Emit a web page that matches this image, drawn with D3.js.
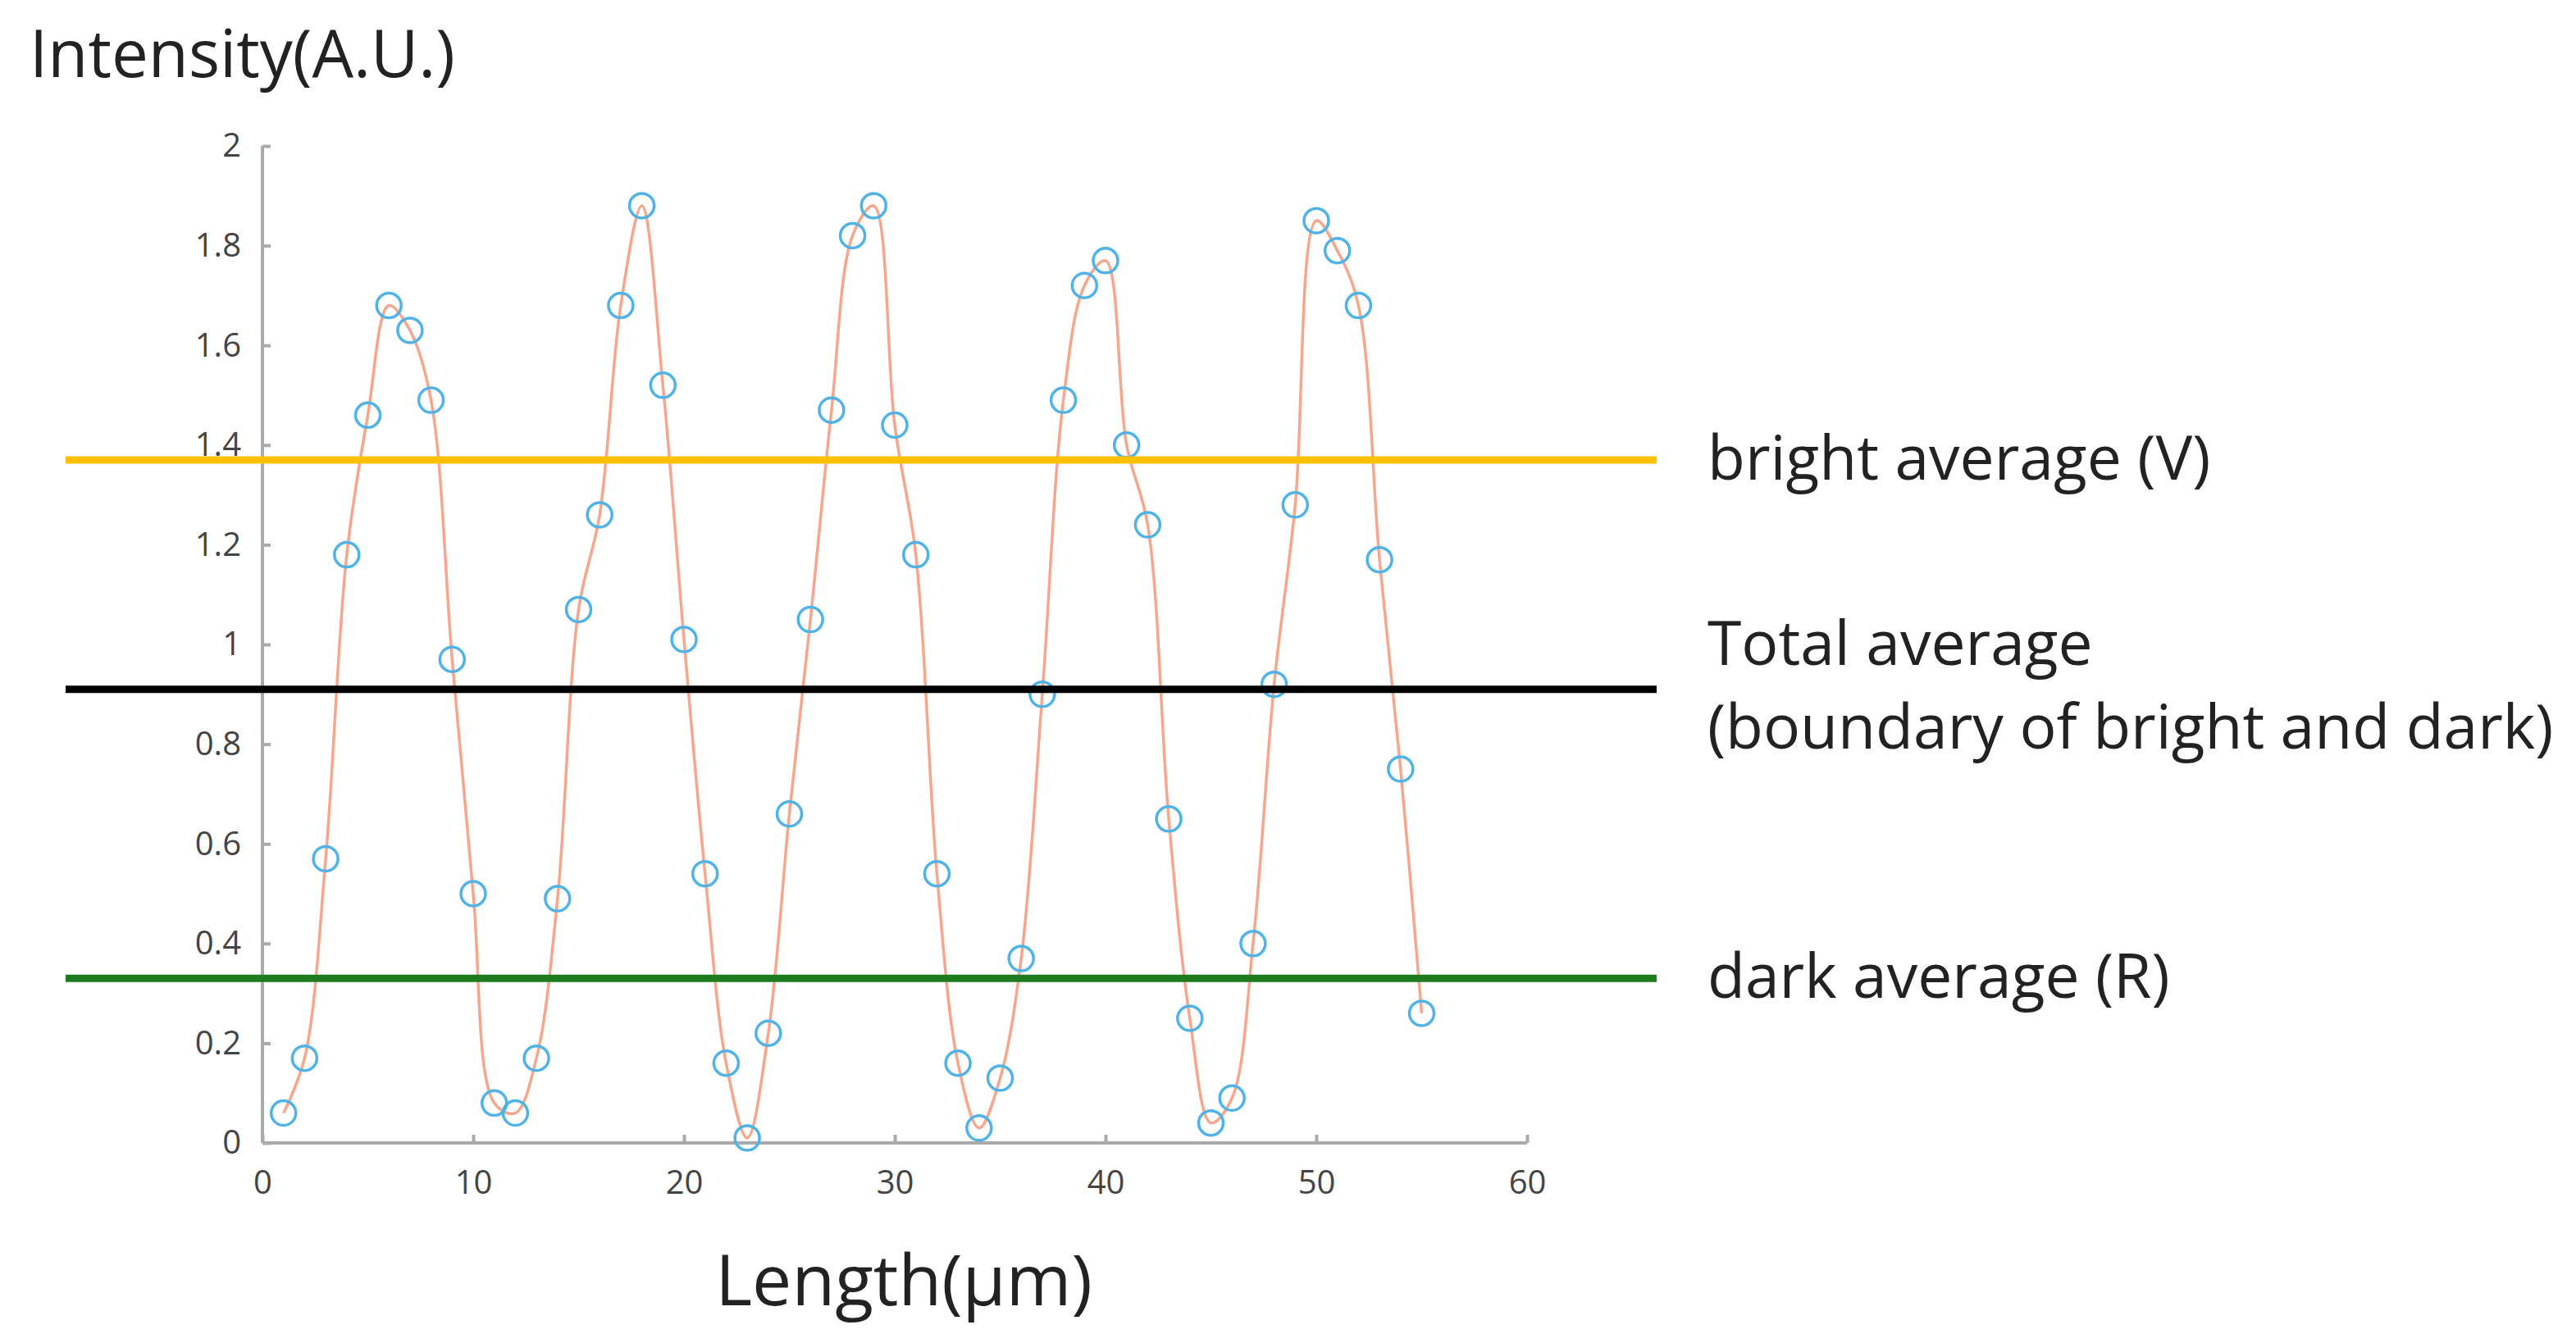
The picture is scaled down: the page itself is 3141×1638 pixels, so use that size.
<!DOCTYPE html><html><head><meta charset="utf-8"><script src="https://cdn.jsdelivr.net/npm/d3@7"></script>
<style>body{margin:0;background:#fff}text{font-family:"Open Sans",Calibri,sans-serif}</style></head><body>
<svg id="c" width="3141" height="1638"></svg>
<script>
const xs=d3.range(1,56);
const intensity=[0.06,0.17,0.57,1.18,1.46,1.68,1.63,1.49,0.97,0.50,0.08,0.06,0.17,0.49,1.07,1.26,1.68,1.88,1.52,1.01,0.54,0.16,0.01,0.22,0.66,1.05,1.47,1.82,1.88,1.44,1.18,0.54,0.16,0.03,0.13,0.37,0.90,1.49,1.72,1.77,1.40,1.24,0.65,0.25,0.04,0.09,0.40,0.92,1.28,1.85,1.79,1.68,1.17,0.75,0.26];
const refNames=["bright average (V)","Total average","dark average (R)"];
const refValues=[1.37,0.91,0.33];
const refColors=["#ffc000","#000000","#1e7b1e"];
const xTicks=[0,10,20,30,40,50,60];
const yTicks=[0,0.2,0.4,0.6,0.8,1,1.2,1.4,1.6,1.8,2];
const svg=d3.select("#c");
const x=d3.scaleLinear().domain([0,60]).range([320,1862]);
const y=d3.scaleLinear().domain([0,2]).range([1394,178]);
const ax=svg.append("g").attr("transform","translate(0,1394)").call(d3.axisBottom(x).tickValues(xTicks).tickSize(-10).tickPadding(34).tickFormat(d3.format("d")));
const ay=svg.append("g").attr("transform","translate(320,0)").call(d3.axisLeft(y).tickValues(yTicks).tickSize(-10).tickPadding(26).tickFormat(d=>d));
[ax,ay].forEach(a=>{a.selectAll("path,line").attr("stroke","#aaa").attr("stroke-width",4);a.selectAll("text").attr("fill","#444").attr("font-size",40);});
ax.select(".domain").attr("d","M320,0H1862");
ay.select(".domain").attr("d","M0,178V1394");
svg.append("path").datum(xs.map((d,i)=>[d,intensity[i]])).attr("fill","none").attr("stroke","#f7a68c").attr("stroke-width",3.5)
 .attr("d",d3.line().x(d=>x(d[0])).y(d=>y(d[1])).curve(d3.curveCatmullRom.alpha(0.5)));
svg.selectAll("circle").data(xs).join("circle").attr("cx",d=>x(d)).attr("cy",(d,i)=>y(intensity[i])).attr("r",15).attr("fill","none").attr("stroke","#4fb3e8").attr("stroke-width",3.5);
refValues.forEach((v,i)=>{svg.append("line").attr("x1",80).attr("x2",2020).attr("y1",y(v)).attr("y2",y(v)).attr("stroke",refColors[i]).attr("stroke-width",9);});
const lab=(t,xx,yy)=>svg.append("text").attr("x",xx).attr("y",yy).attr("font-size",75).attr("fill","#222").text(t);
lab(refNames[0],2082,y(1.37)+24);
lab(refNames[1],2082,y(0.91)-30);
lab("(boundary of bright and dark)",2082,y(0.91)+72);
lab(refNames[2],2082,y(0.33)+24);
svg.append("text").attr("x",36).attr("y",94).attr("font-size",80).attr("fill","#222").text("Intensity(A.U.)");
svg.append("text").attr("x",1102).attr("y",1592).attr("text-anchor","middle").attr("font-size",86).attr("fill","#222").text("Length(μm)");
</script></body></html>
